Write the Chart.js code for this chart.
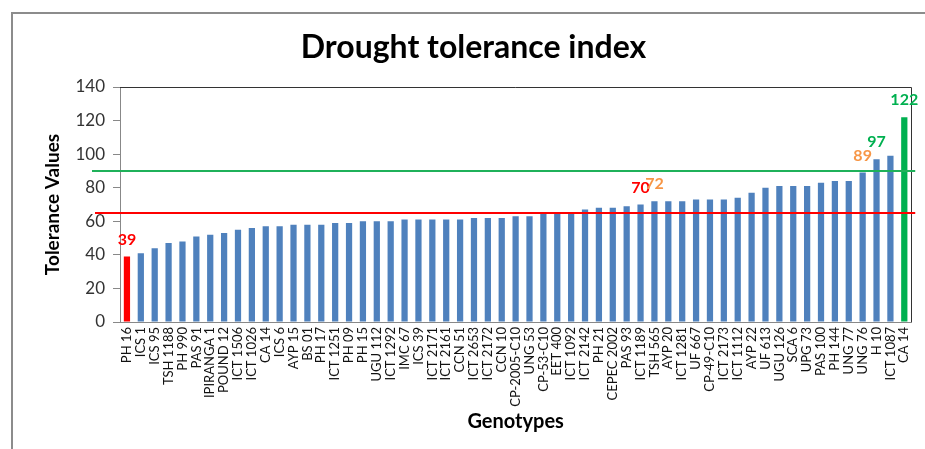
<!DOCTYPE html>
<html>
<head>
<meta charset="utf-8">
<script src="https://cdn.jsdelivr.net/npm/chart.js@4/dist/chart.umd.min.js"></script>
<style>
  html, body { margin: 0; padding: 0; background: #fff; }
  #wrap { width: 925px; height: 449px; position: relative; }
</style>
</head>
<body>
<div id="wrap"><canvas id="c" width="925" height="449"></canvas></div>
<script>
const genotypes = ['PH 16','ICS 1','ICS 95','TSH 1188','PH 990','PAS 91','IPIRANGA 1','POUND 12','ICT 1506','ICT 1026',
  'CA 14','ICS 6','AYP 15','BS 01','PH 17','ICT 1251','PH 09','PH 15','UGU 112','ICT 1292',
  'IMC 67','ICS 39','ICT 2171','ICT 2161','CCN 51','ICT 2653','ICT 2172','CCN 10','CP-2005-C10','UNG 53',
  'CP-53-C10','EET 400','ICT 1092','ICT 2142','PH 21','CEPEC 2002','PAS 93','ICT 1189','TSH 565','AYP 20',
  'ICT 1281','UF 667','CP-49-C10','ICT 2173','ICT 1112','AYP 22','UF 613','UGU 126','SCA 6','UPG 73',
  'PAS 100','PH 144','UNG 77','UNG 76','H 10','ICT 1087','CA 14'];
const tolerance = [39,41,44,47,48,51,52,53,55,56,
  57,57,58,58,58,59,59,60,60,60,
  61,61,61,61,61,62,62,62,63,63,
  65,65,65,67,68,68,69,70,72,72,
  72,73,73,73,74,77,80,81,81,81,
  83,84,84,89,97,99,122];
const yTicks = [0,20,40,60,80,100,120,140];
const lowThreshold = 65;
const highThreshold = 90;
const labelledIndex = [0, 37, 38, 53, 54, 56];

const BLUE = '#4F81BD', RED = '#FF0000', GREEN = '#00B050', ORANGE = '#F79646';
const labelColor = { 0: RED, 37: RED, 38: ORANGE, 53: ORANGE, 54: GREEN, 56: GREEN };
const barColors = tolerance.map((v, i) => i === 0 ? RED : (i === tolerance.length - 1 ? GREEN : BLUE));
const FONT = 'Lato, "Liberation Sans", sans-serif';

const framePlugin = {
  id: 'frame',
  afterLayout(chart) {
    if (chart.titleBlock) { chart.titleBlock.left = 34; }
  },
  beforeDraw(chart) {
    const ctx = chart.ctx;
    ctx.save();
    ctx.strokeStyle = '#8c8c8c';
    ctx.lineWidth = 2;
    ctx.beginPath();
    ctx.moveTo(12, 449);
    ctx.lineTo(12, 13);
    ctx.lineTo(925, 13);
    ctx.stroke();
    ctx.restore();
  },
  afterDraw(chart) {
    const ctx = chart.ctx, a = chart.chartArea;
    const y = chart.scales.y;
    ctx.save();
    ctx.strokeStyle = '#333';
    ctx.lineWidth = 1;
    ctx.beginPath();
    ctx.moveTo(a.left, Math.round(a.top) + 0.5);
    ctx.lineTo(Math.round(a.right) + 0.5, Math.round(a.top) + 0.5);
    ctx.lineTo(Math.round(a.right) + 0.5, a.bottom);
    ctx.stroke();
    const lines = [[lowThreshold, RED, 25], [highThreshold, '#1FB15A', 28]];
    lines.forEach(([v, col, ext]) => {
      const py = y.getPixelForValue(v);
      ctx.strokeStyle = col;
      ctx.lineWidth = 2;
      ctx.beginPath();
      ctx.moveTo(a.left - ext, py);
      ctx.lineTo(a.right + 4, py);
      ctx.stroke();
    });
    const meta = chart.getDatasetMeta(0);
    ctx.font = 'bold 16px ' + FONT;
    ctx.textAlign = 'center';
    ctx.textBaseline = 'alphabetic';
    labelledIndex.forEach(i => {
      const bar = meta.data[i];
      ctx.fillStyle = labelColor[i];
      ctx.fillText(String(tolerance[i]), bar.x, bar.y - 12);
    });
    ctx.restore();
  }
};

new Chart(document.getElementById('c'), {
  type: 'bar',
  data: {
    labels: genotypes,
    datasets: [{
      data: tolerance,
      backgroundColor: barColors,
      borderWidth: 0,
      categoryPercentage: 1.0,
      barPercentage: 0.45
    }]
  },
  options: {
    responsive: false,
    animation: false,
    devicePixelRatio: 1,
    layout: { padding: { left: 0, right: 12, top: 0, bottom: 0 } },
    plugins: {
      legend: { display: false },
      tooltip: { enabled: false },
      title: {
        display: true,
        text: 'Drought tolerance index',
        color: '#000',
        font: { family: FONT, size: 32, weight: 'bold', lineHeight: 1.2 },
        padding: { top: 28, bottom: 20.6 }
      }
    },
    scales: {
      x: {
        afterFit(s) { s.height = 127; },
        grid: { display: false, drawTicks: false },
        border: { display: true, color: '#888', width: 1 },
        ticks: {
          autoSkip: false, minRotation: 90, maxRotation: 90, padding: 5,
          color: '#111',
          font: { family: FONT, size: 13 }
        },
        title: {
          display: true, text: 'Genotypes', color: '#000',
          font: { family: FONT, size: 20, weight: 'bold', lineHeight: 1.2 },
          padding: { top: 0, bottom: 15 }
        }
      },
      y: {
        min: 0, max: 140,
        afterFit(s) { s.width = 120; },
        afterBuildTicks(s) { s.ticks = yTicks.map(v => ({ value: v })); },
        grid: { drawOnChartArea: false, drawTicks: true, tickLength: 7, color: '#888' },
        border: { display: true, color: '#888', width: 1 },
        ticks: {
          padding: 8, color: '#333',
          font: { family: FONT, size: 17 }
        },
        title: {
          display: true, text: 'Tolerance Values', color: '#000',
          font: { family: FONT, size: 19, weight: 'bold', lineHeight: 1.2 },
          padding: { top: 41, bottom: 0 }
        }
      }
    }
  },
  plugins: [framePlugin]
});
</script>
</body>
</html>
